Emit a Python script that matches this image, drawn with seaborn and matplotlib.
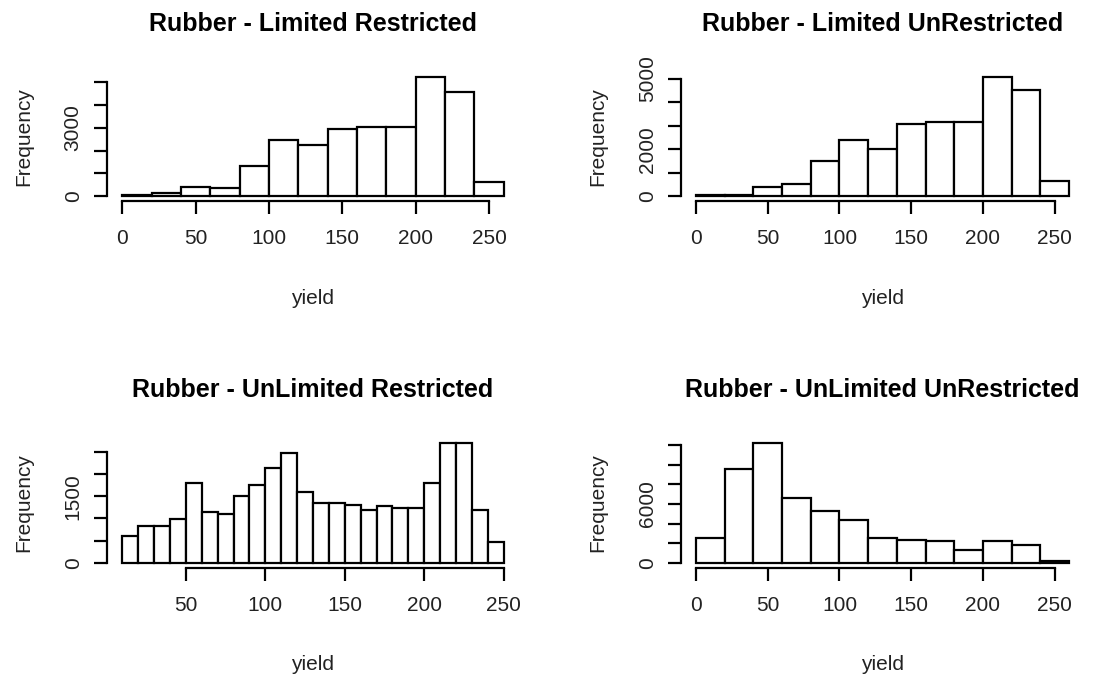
import matplotlib
matplotlib.use("Agg")
import matplotlib.pyplot as plt
import seaborn as sns
import numpy as np
import pandas as pd

# ---- data ----
titles = ["Rubber - Limited Restricted", "Rubber - Limited UnRestricted",
          "Rubber - UnLimited Restricted", "Rubber - UnLimited UnRestricted"]

edges_20 = [0, 20, 40, 60, 80, 100, 120, 140, 160, 180, 200, 220, 240, 260]
edges_10 = [10, 20, 30, 40, 50, 60, 70, 80, 90, 100, 110, 120, 130, 140, 150,
            160, 170, 180, 190, 200, 210, 220, 230, 240, 250]

counts_lim_res = [60, 130, 410, 350, 1345, 2470, 2250, 2950, 3025, 3025, 5220, 4590, 615]
counts_lim_unres = [55, 55, 400, 525, 1490, 2385, 2030, 3070, 3140, 3140, 5060, 4520, 650]
counts_unlim_res = [615, 833, 833, 983, 1795, 1134, 1089, 1494, 1749, 2147, 2470, 1599,
                    1351, 1351, 1306, 1201, 1269, 1231, 1231, 1795, 2695, 2695, 1201, 473]
counts_unlim_unres = [2517, 9558, 12177, 6599, 5306, 4320, 2517, 2347, 2177, 1327, 2177, 1837, 136]

xticks_a = [0, 50, 100, 150, 200, 250]
xticks_b = [50, 100, 150, 200, 250]

yticks_1 = [0, 1000, 2000, 3000, 4000, 5000]
ylabels_1 = ["0", "", "", "3000", "", ""]
yticks_2 = [0, 1000, 2000, 3000, 4000, 5000]
ylabels_2 = ["0", "", "2000", "", "", "5000"]
yticks_3 = [0, 500, 1000, 1500, 2000, 2500]
ylabels_3 = ["0", "", "", "1500", "", ""]
yticks_4 = [0, 2000, 4000, 6000, 8000, 10000, 12000]
ylabels_4 = ["0", "", "", "6000", "", "", ""]

panels = [
    (titles[0], edges_20, counts_lim_res, xticks_a, yticks_1, ylabels_1),
    (titles[1], edges_20, counts_lim_unres, xticks_a, yticks_2, ylabels_2),
    (titles[2], edges_10, counts_unlim_res, xticks_b, yticks_3, ylabels_3),
    (titles[3], edges_20, counts_unlim_unres, xticks_a, yticks_4, ylabels_4),
]

sns.set_style("white")
plt.rcParams['font.family'] = ['Liberation Sans', 'DejaVu Sans']
plt.rcParams['text.color'] = 'black'
plt.rcParams['axes.labelcolor'] = 'black'
plt.rcParams['xtick.color'] = 'black'
plt.rcParams['ytick.color'] = 'black'

W, H = 1102, 675
fig = plt.figure(figsize=(W / 100, H / 100), dpi=100)

# axes boxes in pixels (left, top, right, bottom)
boxes = [(107, 72.5, 519, 201), (681, 72.5, 1084, 201),
         (107, 438.4, 519, 567.6), (681, 438.4, 1084, 567.6)]

for (title, edges, counts, xt, yt, yl), (l, t, r, b) in zip(panels, boxes):
    ax = fig.add_axes([l / W, 1 - b / H, (r - l) / W, (b - t) / H])
    centers = [(a + c) / 2 for a, c in zip(edges[:-1], edges[1:])]
    df = pd.DataFrame({"yield": centers, "count": counts})
    sns.histplot(data=df, x="yield", weights="count", bins=list(edges), ax=ax,
                 color="white", edgecolor="black", linewidth=1.6, alpha=1)
    lo, hi = min(edges), max(edges)
    ax.set_xlim(lo - 0.04 * (hi - lo), hi + 0.04 * (hi - lo))
    ymax = max(counts)
    ax.set_ylim(-0.04 * ymax, 1.04 * ymax)
    ax.set_xticks(xt)
    ax.set_xticklabels([str(v) for v in xt], fontsize=15, color="#222222")
    ax.set_yticks(yt)
    ax.set_yticklabels(yl, fontsize=15, rotation=90, va="center", color="#222222")
    for s in ["top", "right"]:
        ax.spines[s].set_visible(False)
    for s in ["left", "bottom"]:
        ax.spines[s].set_visible(True)
        ax.spines[s].set_linewidth(1.6)
        ax.spines[s].set_color("black")
    ax.spines["bottom"].set_bounds(xt[0], xt[-1])
    ax.spines["left"].set_bounds(yt[0], yt[-1])
    ax.tick_params(axis="both", direction="out", length=9.5, width=1.6,
                   color="black", bottom=True, left=True)
    ax.tick_params(axis="x", pad=11)
    ax.tick_params(axis="y", pad=8)
    ax.set_xlabel("yield", fontsize=15, labelpad=29, color="#222222")
    ax.set_ylabel("Frequency", fontsize=15, labelpad=22, color="#222222")
    ax.set_title(title, fontsize=18, fontweight="bold", pad=30, color="black")
    ax.patch.set_alpha(0)

fig.savefig("out.png", dpi=100, facecolor="white")
